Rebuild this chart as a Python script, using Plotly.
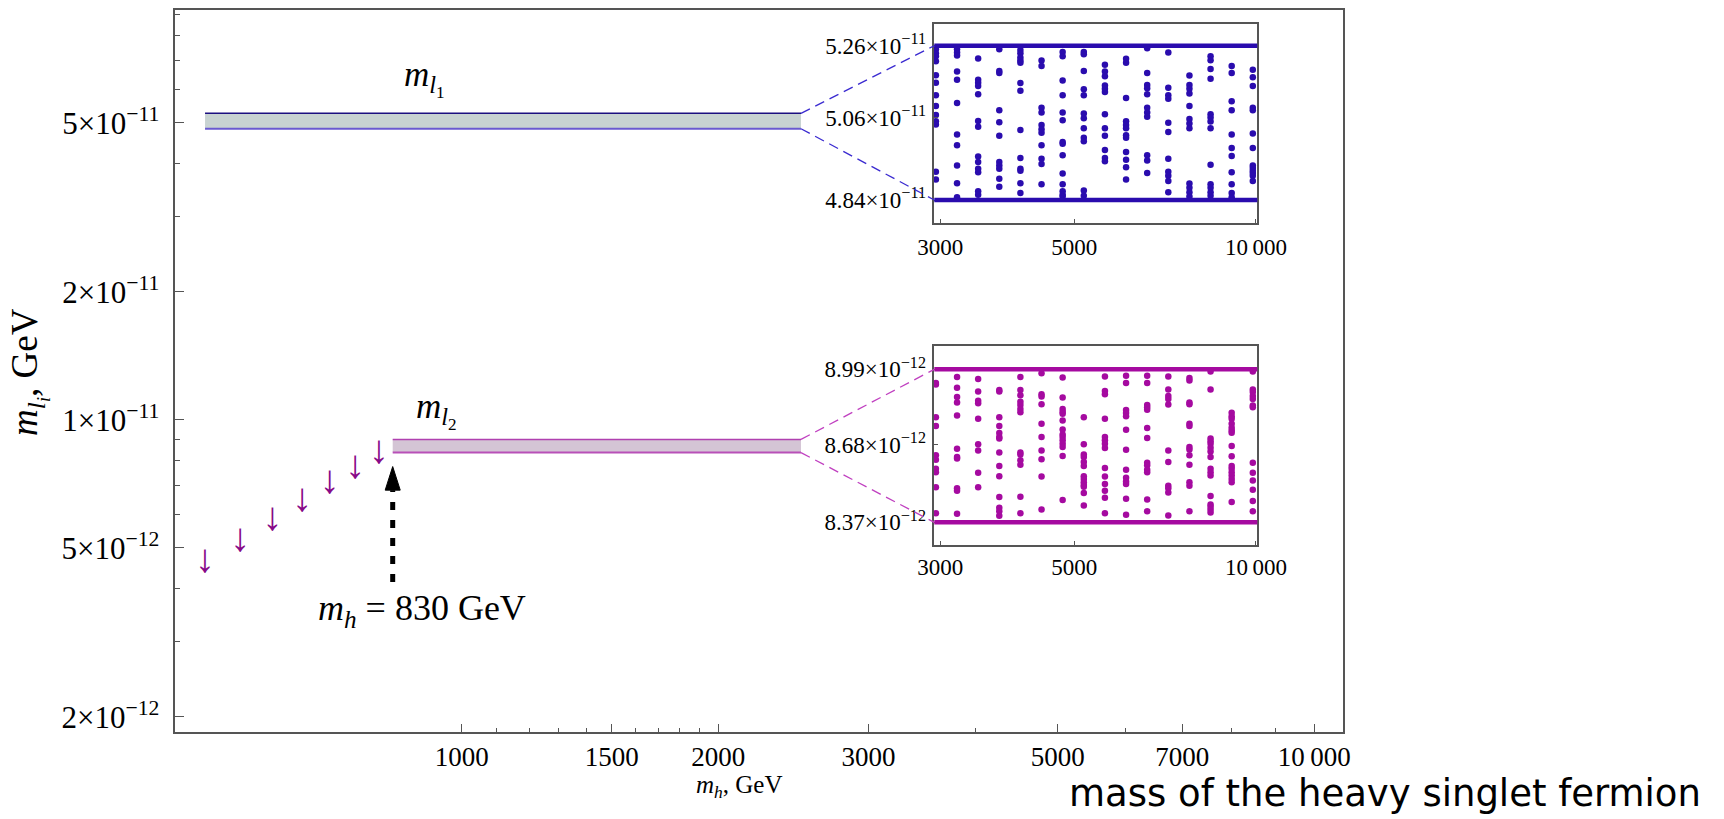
import math
import plotly.graph_objects as go

W, H = 1724, 819

# ---------------- data ----------------
band1_x = [500, 2500]
band1_y = [4.84e-11, 5.26e-11]          # m_l1 band (lo, hi)
band2_x = [830, 2500]
band2_y = [8.37e-12, 8.99e-12]          # m_l2 band (lo, hi)

bound_x = [500, 550, 600, 650, 700, 750, 800]
bound_y = [4.62e-12, 5.19e-12, 5.81e-12, 6.45e-12, 7.09e-12, 7.72e-12, 8.37e-12]

arrow_x = 830
arrow_y = [4.15e-12, 6.83e-12, 7.76e-12]   # tail, head base, tip

main_ytick_vals = [2e-12, 5e-12, 1e-11, 2e-11, 5e-11]
main_ytick_text = ["2×10<sup>−12</sup>", "5×10<sup>−12</sup>", "1×10<sup>−11</sup>",
                   "2×10<sup>−11</sup>", "5×10<sup>−11</sup>"]
main_yminor = [3e-12, 4e-12, 6e-12, 7e-12, 8e-12, 9e-12, 3e-11, 4e-11, 6e-11, 7e-11, 8e-11, 9e-11]
main_xtick_vals = [1000, 1500, 2000, 3000, 5000, 7000, 10000]
main_xtick_text = ["1000", "1500", "2000", "3000", "5000", "7000", "10\u2009000"]
main_xminor = [1100, 1200, 1300, 1400, 1600, 1700, 1800, 1900, 4000, 6000, 8000, 9000]

inset_xtick_vals = [3000, 5000, 10000]
inset_xtick_text = ["3000", "5000", "10\u2009000"]
in1_ytick_vals = [4.84e-11, 5.06e-11, 5.26e-11]
in1_ytick_text = ["4.84×10<sup>−11</sup>", "5.06×10<sup>−11</sup>", "5.26×10<sup>−11</sup>"]
in2_ytick_vals = [8.37e-12, 8.68e-12, 8.99e-12]
in2_ytick_text = ["8.37×10<sup>−12</sup>", "8.68×10<sup>−12</sup>", "8.99×10<sup>−12</sup>"]

scan_x = [2950, 3198, 3466, 3757, 4072, 4414, 4784, 5186, 5621, 6093, 6604, 7158, 7759, 8410, 9115, 9880]

# m_l1 scan points, units of 1e-11 GeV (one list per scan_x column)
ml1_scan = [
    [5.250, 5.239, 5.230, 5.216, 5.177, 5.156, 5.121, 5.092, 5.067, 5.050, 5.041, 4.914, 4.894],
    [5.250, 5.241, 5.232, 5.187, 5.164, 5.100, 5.014, 4.985, 4.931, 4.884, 4.847],
    [5.224, 5.164, 5.156, 5.147, 5.124, 5.051, 5.035, 4.955, 4.940, 4.922, 4.913, 4.863, 4.854],
    [5.250, 5.189, 5.183, 5.080, 5.047, 5.011, 4.940, 4.931, 4.922, 4.896, 4.875],
    [5.248, 5.239, 5.227, 5.218, 5.212, 5.155, 5.134, 5.026, 4.951, 4.922, 4.917, 4.884, 4.858],
    [5.218, 5.203, 5.087, 5.074, 5.040, 5.028, 5.019, 4.985, 4.949, 4.935, 4.881],
    [5.242, 5.230, 5.162, 5.121, 5.074, 5.053, 4.994, 4.989, 4.958, 4.910, 4.881, 4.863, 4.854, 4.849],
    [5.242, 5.236, 5.189, 5.138, 5.121, 5.071, 5.058, 5.031, 5.005, 4.996, 4.865, 4.851],
    [5.206, 5.187, 5.174, 5.148, 5.139, 5.130, 5.069, 5.031, 5.011, 4.972, 4.951, 4.942],
    [5.223, 5.212, 5.114, 5.050, 5.040, 5.031, 5.012, 5.005, 4.967, 4.946, 4.926, 4.894],
    [5.253, 5.183, 5.150, 5.141, 5.124, 5.087, 5.074, 5.062, 4.958, 4.944, 4.911],
    [5.241, 5.142, 5.121, 5.112, 5.046, 5.021, 4.949, 4.914, 4.904, 4.890, 4.860],
    [5.176, 5.150, 5.139, 5.126, 5.092, 5.056, 5.044, 5.031, 4.883, 4.872, 4.860, 4.849],
    [5.230, 5.219, 5.194, 5.167, 5.069, 5.060, 5.049, 5.031, 4.933, 4.881, 4.872, 4.860, 4.851],
    [5.203, 5.183, 5.105, 5.080, 5.014, 4.978, 4.956, 4.913, 4.881, 4.858, 4.847],
    [5.192, 5.171, 5.147, 5.087, 5.080, 5.017, 4.978, 4.931, 4.924, 4.917, 4.911, 4.904, 4.890],
]

# m_l2 scan points, units of 1e-12 GeV
ml2_scan = [
    [8.933, 8.927, 8.791, 8.755, 8.636, 8.618, 8.582, 8.568, 8.508, 8.406],
    [8.958, 8.913, 8.875, 8.852, 8.798, 8.663, 8.629, 8.623, 8.504, 8.494, 8.404],
    [8.949, 8.897, 8.859, 8.849, 8.785, 8.681, 8.656, 8.566, 8.508],
    [8.904, 8.897, 8.791, 8.755, 8.727, 8.710, 8.704, 8.647, 8.593, 8.552, 8.470, 8.427, 8.413, 8.396],
    [8.958, 8.904, 8.882, 8.855, 8.841, 8.825, 8.812, 8.647, 8.639, 8.616, 8.598, 8.471, 8.406],
    [8.974, 8.886, 8.877, 8.845, 8.764, 8.710, 8.656, 8.620, 8.551, 8.420],
    [8.956, 8.872, 8.825, 8.814, 8.805, 8.778, 8.741, 8.720, 8.710, 8.697, 8.683, 8.670, 8.633, 8.458],
    [8.791, 8.681, 8.639, 8.629, 8.609, 8.593, 8.552, 8.541, 8.528, 8.517, 8.510, 8.485, 8.436],
    [8.960, 8.899, 8.886, 8.785, 8.710, 8.697, 8.683, 8.666, 8.585, 8.551, 8.521, 8.494, 8.467, 8.406],
    [8.963, 8.933, 8.821, 8.808, 8.795, 8.740, 8.659, 8.578, 8.546, 8.531, 8.521, 8.463, 8.400],
    [8.963, 8.933, 8.841, 8.832, 8.822, 8.747, 8.706, 8.606, 8.596, 8.578, 8.568, 8.460, 8.413],
    [8.960, 8.906, 8.879, 8.866, 8.843, 8.656, 8.609, 8.514, 8.504, 8.487, 8.397],
    [8.954, 8.943, 8.852, 8.845, 8.764, 8.755, 8.670, 8.660, 8.636, 8.598, 8.528, 8.514, 8.413],
    [8.981, 8.906, 8.704, 8.693, 8.683, 8.667, 8.652, 8.629, 8.582, 8.568, 8.555, 8.474, 8.440, 8.431, 8.420, 8.409],
    [8.809, 8.795, 8.785, 8.764, 8.748, 8.737, 8.728, 8.674, 8.632, 8.593, 8.582, 8.568, 8.555, 8.541, 8.528, 8.450],
    [8.981, 8.906, 8.895, 8.879, 8.866, 8.839, 8.832, 8.606, 8.566, 8.535, 8.498, 8.454, 8.413],
]

# ---------------- layout geometry ----------------
main_xd = [175.3 / W, 1343.3 / W]
main_yd = [1 - 731.7 / H, 1 - 10 / H]
main_xr = [2.66409, 4.03401]
main_yr = [-11.73397, -10.03585]

in_xd = [934.3 / W, 1257.3 / W]
in_xr = [3.4672, 4.0022]
in1_yd = [1 - 222.7 / H, 1 - 24.3 / H]
in1_yr = [-10.32047, -10.27400]
in2_yd = [1 - 545.0 / H, 1 - 345.7 / H]
in2_yr = [-11.08187, -11.04145]


def to_paper(v, d, r):
    return d[0] + (math.log10(v) - r[0]) / (r[1] - r[0]) * (d[1] - d[0])


SERIF = "Liberation Serif"
BLUE = "#2a0cae"
MAG = "#a50aa0"
PURPLE = "#880a88"
AXC = "#555555"

fig = go.Figure()

# band 1
fig.add_trace(go.Scatter(
    x=[band1_x[0], band1_x[1], band1_x[1], band1_x[0]],
    y=[band1_y[0], band1_y[0], band1_y[1], band1_y[1]],
    fill="toself", fillcolor="#c8d3d2", line=dict(width=0), mode="lines",
    xaxis="x", yaxis="y", hoverinfo="skip"))
fig.add_trace(go.Scatter(x=band1_x, y=[band1_y[1]] * 2, mode="lines",
                         line=dict(color="#1c1080", width=1.5), xaxis="x", yaxis="y"))
fig.add_trace(go.Scatter(x=band1_x, y=[band1_y[0]] * 2, mode="lines",
                         line=dict(color="#6a5ad0", width=2), xaxis="x", yaxis="y"))
# band 2
fig.add_trace(go.Scatter(
    x=[band2_x[0], band2_x[1], band2_x[1], band2_x[0]],
    y=[band2_y[0], band2_y[0], band2_y[1], band2_y[1]],
    fill="toself", fillcolor="#d4c5d5", line=dict(width=0), mode="lines",
    xaxis="x", yaxis="y", hoverinfo="skip"))
fig.add_trace(go.Scatter(x=band2_x, y=[band2_y[1]] * 2, mode="lines",
                         line=dict(color="#b040b0", width=1.5), xaxis="x", yaxis="y"))
fig.add_trace(go.Scatter(x=band2_x, y=[band2_y[0]] * 2, mode="lines",
                         line=dict(color="#b850b8", width=2), xaxis="x", yaxis="y"))

# upper-bound arrows
fig.add_trace(go.Scatter(x=bound_x, y=bound_y, mode="text", text=["↓"] * len(bound_x),
                         textposition="middle center",
                         textfont=dict(family=SERIF, size=40, color=PURPLE),
                         xaxis="x", yaxis="y"))

# black dashed arrow at 830 GeV
fig.add_trace(go.Scatter(x=[arrow_x, arrow_x], y=[arrow_y[0], arrow_y[1]], mode="lines",
                         line=dict(color="black", width=5, dash="8px,10px"),
                         xaxis="x", yaxis="y"))
hw = 1.0205
fig.add_trace(go.Scatter(x=[arrow_x / hw, arrow_x * hw, arrow_x, arrow_x / hw],
                         y=[arrow_y[1], arrow_y[1], arrow_y[2], arrow_y[1]],
                         mode="lines", fill="toself", fillcolor="black",
                         line=dict(color="black", width=1), xaxis="x", yaxis="y"))

# inset scatter points
x1, y1 = [], []
for xv, col in zip(scan_x, ml1_scan):
    for v in col:
        x1.append(xv)
        y1.append(v * 1e-11)
x2, y2 = [], []
for xv, col in zip(scan_x, ml2_scan):
    for v in col:
        x2.append(xv)
        y2.append(v * 1e-12)
fig.add_trace(go.Scatter(x=x1, y=y1, mode="markers", marker=dict(size=6.5, color=BLUE),
                         xaxis="x2", yaxis="y2", cliponaxis=False))
fig.add_trace(go.Scatter(x=x2, y=y2, mode="markers", marker=dict(size=6.5, color=MAG),
                         xaxis="x3", yaxis="y3", cliponaxis=False))

shapes = []
for v in band1_y:
    shapes.append(dict(type="line", xref="x2 domain", yref="y2", x0=0, x1=1, y0=v, y1=v,
                       line=dict(color=BLUE, width=4.5)))
for v in band2_y:
    shapes.append(dict(type="line", xref="x3 domain", yref="y3", x0=0, x1=1, y0=v, y1=v,
                       line=dict(color=MAG, width=4.5)))
# connectors
for v in band1_y:
    shapes.append(dict(type="line", xref="paper", yref="paper",
                       x0=to_paper(band1_x[1], main_xd, main_xr), y0=to_paper(v, main_yd, main_yr),
                       x1=in_xd[0], y1=to_paper(v, in1_yd, in1_yr),
                       line=dict(color="#3a2ad0", width=1.3, dash="10px,6px")))
for v in band2_y:
    shapes.append(dict(type="line", xref="paper", yref="paper",
                       x0=to_paper(band2_x[1], main_xd, main_xr), y0=to_paper(v, main_yd, main_yr),
                       x1=in_xd[0], y1=to_paper(v, in2_yd, in2_yr),
                       line=dict(color="#c040c0", width=1.3, dash="10px,6px")))

tickfont_main_y = dict(family=SERIF, size=31, color="black")
tickfont_main_x = dict(family=SERIF, size=27, color="black")
tickfont_in = dict(family=SERIF, size=23, color="black")

common = dict(showgrid=False, zeroline=False, showline=True, linecolor=AXC, linewidth=1.5,
              mirror=True, ticks="inside", tickcolor=AXC, tickwidth=1, automargin=False)

annotations = [
    dict(text="<i>m</i><sub><i>l</i><sub><i>i</i></sub></sub>, GeV", x=29 / W, y=1 - 372 / H,
         xref="paper", yref="paper", textangle=-90, showarrow=False,
         font=dict(family=SERIF, size=37, color="black"), xanchor="center", yanchor="middle"),
    dict(text="<i>m</i><sub><i>h</i></sub>, GeV", x=739 / W, y=1 - 786 / H,
         xref="paper", yref="paper", showarrow=False,
         font=dict(family=SERIF, size=25, color="black"), xanchor="center", yanchor="middle"),
    dict(text="mass of the heavy singlet fermion", x=1703 / W, y=1 - 793 / H,
         xref="paper", yref="paper", showarrow=False,
         font=dict(family="DejaVu Sans", size=37, color="black"), xanchor="right", yanchor="middle"),
    dict(text="<i>m</i><sub><i>l</i><sub>1</sub></sub>", x=402 / W, y=1 - 79 / H,
         xref="paper", yref="paper", showarrow=False,
         font=dict(family=SERIF, size=35, color="black"), xanchor="left", yanchor="middle"),
    dict(text="<i>m</i><sub><i>l</i><sub>2</sub></sub>", x=414 / W, y=1 - 410 / H,
         xref="paper", yref="paper", showarrow=False,
         font=dict(family=SERIF, size=35, color="black"), xanchor="left", yanchor="middle"),
    dict(text="<i>m</i><sub><i>h</i></sub> = 830 GeV", x=422 / W, y=1 - 610 / H,
         xref="paper", yref="paper", showarrow=False,
         font=dict(family=SERIF, size=36, color="black"), xanchor="center", yanchor="middle"),
]

fig.update_layout(
    width=W, height=H, margin=dict(l=0, r=0, t=0, b=0, pad=0, autoexpand=False),
    paper_bgcolor="white", plot_bgcolor="white", showlegend=False,
    xaxis=dict(type="log", domain=main_xd, range=main_xr, anchor="y",
               tickmode="array", tickvals=main_xtick_vals, ticktext=main_xtick_text,
               ticklen=8, tickfont=tickfont_main_x, ticklabelstandoff=0,
               minor=dict(tickmode="array", tickvals=main_xminor, ticks="inside", ticklen=4,
                          tickcolor=AXC, showgrid=False),
               **common),
    yaxis=dict(type="log", domain=main_yd, range=main_yr, anchor="x",
               tickmode="array", tickvals=main_ytick_vals, ticktext=main_ytick_text,
               ticklen=9, tickfont=tickfont_main_y, ticklabelstandoff=8,
               minor=dict(tickmode="array", tickvals=main_yminor, ticks="inside", ticklen=5,
                          tickcolor=AXC, showgrid=False),
               **common),
    xaxis2=dict(type="log", domain=in_xd, range=in_xr, anchor="y2",
                tickmode="array", tickvals=inset_xtick_vals, ticktext=inset_xtick_text,
                ticklen=4, tickfont=tickfont_in, ticklabelstandoff=3, **common),
    yaxis2=dict(type="log", domain=in1_yd, range=in1_yr, anchor="x2",
                tickmode="array", tickvals=in1_ytick_vals, ticktext=in1_ytick_text,
                ticklen=4, tickfont=tickfont_in, ticklabelstandoff=2, **common),
    xaxis3=dict(type="log", domain=in_xd, range=in_xr, anchor="y3",
                tickmode="array", tickvals=inset_xtick_vals, ticktext=inset_xtick_text,
                ticklen=4, tickfont=tickfont_in, ticklabelstandoff=1, **common),
    yaxis3=dict(type="log", domain=in2_yd, range=in2_yr, anchor="x3",
                tickmode="array", tickvals=in2_ytick_vals, ticktext=in2_ytick_text,
                ticklen=4, tickfont=tickfont_in, ticklabelstandoff=2, **common),
    shapes=shapes,
    annotations=annotations,
)

fig.write_html("out.html")
